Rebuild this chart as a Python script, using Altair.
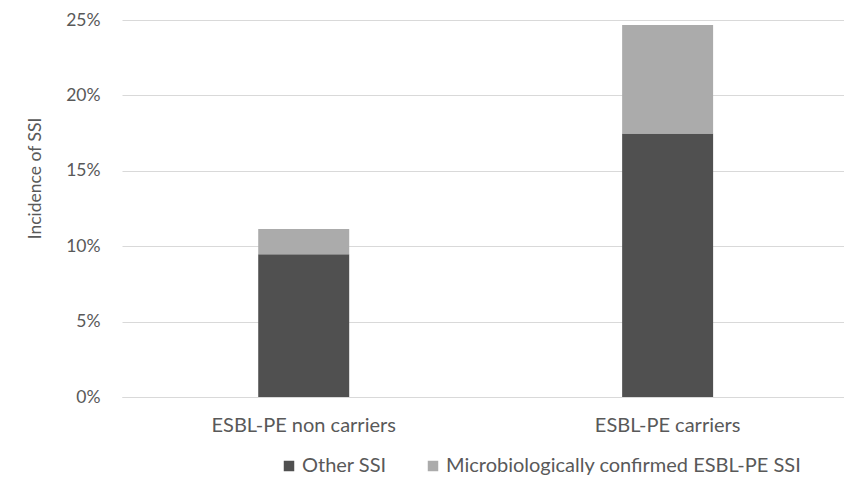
import altair as alt
import pandas as pd

groups = ["ESBL-PE non carriers", "ESBL-PE carriers"]
series = ["Other SSI", "Microbiologically confirmed ESBL-PE SSI"]
other_ssi = [0.0947, 0.1747]
confirmed_ssi = [0.0167, 0.0720]
colors = ["#505050", "#ababab"]
y_ticks = [0, 0.05, 0.10, 0.15, 0.20, 0.25]

rows = []
for g, o, c in zip(groups, other_ssi, confirmed_ssi):
    rows.append({"group": g, "series": series[0], "value": o, "order": 0})
    rows.append({"group": g, "series": series[1], "value": c, "order": 1})
df = pd.DataFrame(rows)

FONT = "Lato"
TXT = "#595959"
GRID = "#d9d9d9"

chart = alt.Chart(df).mark_bar().encode(
    x=alt.X(
        "group:N",
        sort=groups,
        scale=alt.Scale(paddingInner=0.75, paddingOuter=0.367, align=0.51),
        axis=alt.Axis(
            title=None, labelAngle=0, ticks=False, domainColor=GRID, domainWidth=1,
            labelFont=FONT, labelFontSize=20, labelColor=TXT, labelPadding=18,
            labelLimit=500, grid=False,
        ),
    ),
    y=alt.Y(
        "value:Q",
        stack="zero",
        scale=alt.Scale(domain=[0, 0.25], nice=False),
        axis=alt.Axis(
            values=y_ticks, format=".0%", title="Incidence of SSI",
            domain=False, ticks=False, gridColor=GRID, gridWidth=1,
            labelFont=FONT, labelFontSize=17.5, labelColor=TXT, labelPadding=22,
            titleFont=FONT, titleFontSize=17.5, titleColor=TXT, titleFontWeight="normal",
            titleAngle=270, titleX=-87, titleY=158, titleAlign="center", titleBaseline="middle",
        ),
    ),
    color=alt.Color(
        "series:N",
        sort=series,
        scale=alt.Scale(domain=series, range=colors),
        legend=alt.Legend(
            title=None, orient="none", direction="horizontal", legendX=157, legendY=436,
            symbolType="square", symbolSize=110, symbolStrokeWidth=0,
            labelFont=FONT, labelFontSize=20, labelColor=TXT, labelOffset=3,
            columnPadding=36, labelLimit=600,
        ),
    ),
    order=alt.Order("order:Q", sort="ascending"),
).properties(
    width=722,
    height=377,
    background="white",
    autosize=alt.AutoSizeParams(type="none"),
    padding={"left": 114, "top": 12, "right": 0, "bottom": 82},
).configure_view(stroke=None)

chart.save("out.html", embed_options={"renderer": "svg", "actions": False})
